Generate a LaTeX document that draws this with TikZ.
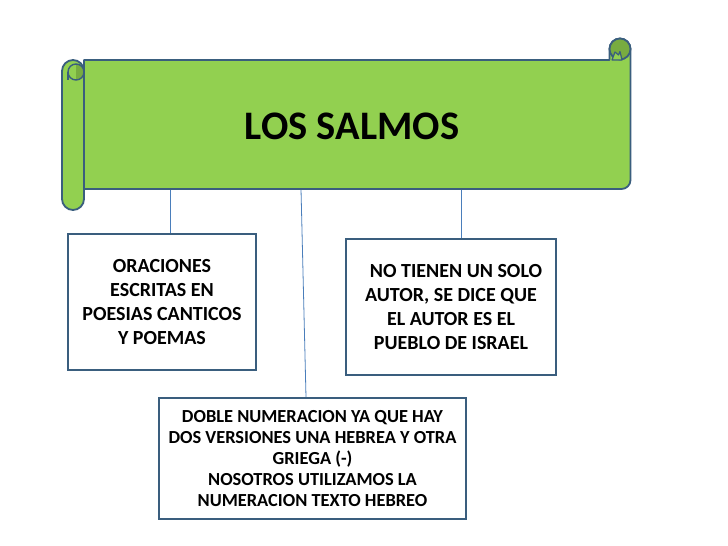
\documentclass[tikz,border=0pt]{standalone}
\usepackage{fontspec}
\setmainfont{Carlito}
\begin{document}
\begin{tikzpicture}[x=1pt,y=-1pt,font=\bfseries,
  box/.style={draw=edge,line width=1.6pt,fill=white,inner sep=0pt,align=center},
  boxtext/.style={font=\bfseries\fontsize{20}{23.7}\selectfont},
  link/.style={draw=wire,line width=0.8pt},
  roll/.style={draw=edge,line width=1.8pt,line join=round}]
\definecolor{leaf}{RGB}{146,208,80}
\definecolor{leafdark}{RGB}{120,172,64}
\definecolor{edge}{RGB}{58,94,126}
\definecolor{wire}{RGB}{74,126,187}
\useasboundingbox[fill=white] (0,0) rectangle (728,546);
\coordinate (t1) at (170,189);
\coordinate (t2) at (301,189);
\coordinate (t3) at (461,189);
\node[box,boxtext,minimum width=188pt,minimum height=136pt] (oraciones) at (162,302)
  {ORACIONES\\ESCRITAS EN\\POESIAS CANTICOS\\Y POEMAS};
\node[box,boxtext,minimum width=210pt,minimum height=136pt] (autor) at (451,307)
  {\hspace*{0.5em}NO TIENEN UN SOLO\\AUTOR, SE DICE QUE\\EL AUTOR ES EL\\PUEBLO DE ISRAEL};
\node[box,font=\bfseries\fontsize{18.4}{21}\selectfont,minimum width=307pt,minimum height=121pt] (numeracion) at (312.5,458.5)
  {DOBLE NUMERACION YA QUE HAY\\DOS VERSIONES UNA HEBREA Y OTRA\\GRIEGA (-)\\NOSOTROS UTILIZAMOS LA\\NUMERACION TEXTO HEBREO};
\draw[link] (t1) -- (t1 |- oraciones.north);
\draw[link] (t2) -- ([xshift=-6.5pt]numeracion.north);
\draw[link] (t3) -- (t3 |- autor.north);
\filldraw[roll,fill=leaf] (84,60) -- (609.5,60) -- (609.5,49)
  arc[start angle=180,end angle=360,radius=10.5] -- (630.5,180)
  arc[start angle=0,end angle=90,radius=9] -- (84,189) -- cycle;
\filldraw[roll,fill=leafdark] (620,49) circle[radius=10.5];
\filldraw[roll,fill=leaf,line width=1.2pt] (612,60) -- (615,52) -- (618.5,55) -- (620,51.5) -- (622,60) -- cycle;
\filldraw[roll,fill=leaf] (62,71) arc[start angle=180,end angle=360,radius=11]
  -- (84,199) arc[start angle=0,end angle=180,radius=11] -- cycle;
\fill[leafdark] (76,64) arc[start angle=-90,end angle=90,radius=8] -- cycle;
\draw[roll,line width=1.4pt] (76,72) circle[radius=8];
\draw[roll,line width=1.4pt] (68,72) -- (68,80);
\node[font=\bfseries\fontsize{40.5}{48}\selectfont] (salmos) at (352,126) {LOS SALMOS};
\end{tikzpicture}
\end{document}
